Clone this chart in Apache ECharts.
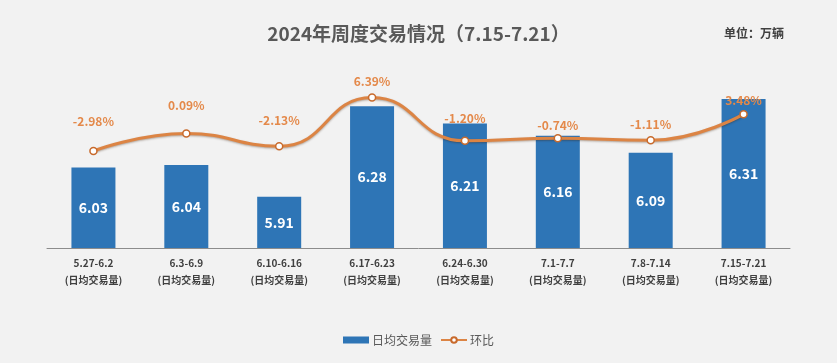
<!DOCTYPE html>
<html><head><meta charset="utf-8">
<script src="https://cdn.jsdelivr.net/npm/echarts@6/dist/echarts.min.js"></script>
<style>html,body{margin:0;padding:0;background:#f2f2f2;}#c{width:837px;height:363px;}</style>
</head><body><div id="c"></div>
<script>
const weeks = ['5.27-6.2','6.3-6.9','6.10-6.16','6.17-6.23','6.24-6.30','7.1-7.7','7.8-7.14','7.15-7.21'];
const subLabel = '(日均交易量)';
const dailyVolume = [6.03, 6.04, 5.91, 6.28, 6.21, 6.16, 6.09, 6.31];
const momChange = [-2.98, 0.09, -2.13, 6.39, -1.20, -0.74, -1.11, 3.48];
const seriesNames = ['日均交易量', '环比'];
// label gap above each line point (style only)
const labelGap = [19, 18, 15, 6, 12, 3, 6, 3];

const chart = echarts.init(document.getElementById('c'), null, {renderer: 'canvas'});
const font = '"Noto Sans CJK SC", "Open Sans", sans-serif';
chart.setOption({
  backgroundColor: '#f2f2f2',
  textStyle: {fontFamily: font},
  title: [{
    text: '2024年周度交易情况（7.15-7.21）',
    left: 'center', top: 19,
    textStyle: {fontSize: 19, fontWeight: 'bold', color: '#595959', fontFamily: font}
  }, {
    text: '单位：万辆',
    right: 48, top: 22,
    textStyle: {fontSize: 12, fontWeight: 'bold', color: '#404040', fontFamily: font}
  }],
  legend: {
    bottom: 12, left: 'center',
    itemGap: 8,
    textStyle: {fontSize: 12, color: '#595959', fontFamily: font, padding: [0, 0, 0, -2]},
    data: [
      {name: seriesNames[0], icon: 'rect', itemStyle: {color: '#2e75b6'}},
      {name: seriesNames[1]}
    ],
    itemWidth: 26, itemHeight: 7
  },
  grid: {left: 47, right: 47, top: 77, bottom: 115},
  xAxis: {
    type: 'category',
    data: weeks,
    axisLine: {onZero: false, lineStyle: {color: '#8c8c8c', width: 1}},
    axisTick: {show: false},
    axisLabel: {
      interval: 0, margin: 7,
      formatter: v => '{a|' + v + '}\n{b|' + subLabel + '}',
      rich: {
        a: {fontSize: 10, fontWeight: 'bold', color: '#404040', lineHeight: 17, fontFamily: font},
        b: {fontSize: 10, fontWeight: 'bold', color: '#404040', lineHeight: 17, fontFamily: font}
      }
    }
  },
  yAxis: [
    {type: 'value', min: 5.7, max: 6.4, show: false, splitLine: {show: false}},
    {type: 'value', min: -20, max: 10, show: false, splitLine: {show: false}}
  ],
  series: [{
    name: seriesNames[0],
    type: 'bar',
    yAxisIndex: 0,
    data: dailyVolume,
    barWidth: 44,
    itemStyle: {color: '#2e75b6'},
    label: {
      show: true, position: 'inside',
      color: '#ffffff', fontSize: 14, fontWeight: 'bold', fontFamily: font,
      formatter: p => p.value.toFixed(2)
    },
    z: 2
  }, {
    name: seriesNames[1],
    type: 'line',
    yAxisIndex: 1,
    data: momChange.map((v, i) => ({value: v, label: {distance: labelGap[i]}})),
    smooth: 0.5,
    symbol: 'circle',
    symbolSize: 7,
    lineStyle: {color: '#dc8444', width: 3, shadowColor: 'rgba(60,30,0,0.35)', shadowBlur: 2, shadowOffsetY: 1},
    itemStyle: {color: '#ffffff', borderColor: '#c86a2c', borderWidth: 1.5},
    label: {
      show: true, position: 'top',
      color: '#e4894a', fontSize: 12, fontWeight: 'bold', fontFamily: font,
      formatter: p => p.value.toFixed(2) + '%'
    },
    labelLayout: {moveOverlap: false, hideOverlap: false},
    z: 3
  }]
});
</script>
</body></html>
